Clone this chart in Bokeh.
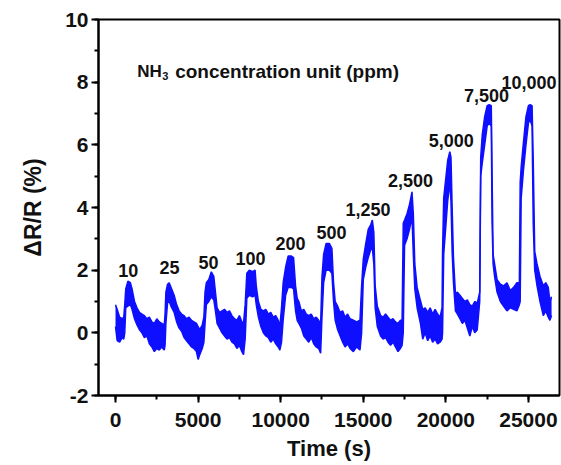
from bokeh.plotting import figure
from bokeh.models import Range1d, SingleIntervalTicker, Label
from bokeh.embed import file_html
from bokeh.resources import INLINE
from bokeh.core.properties import value

# ---- data: time (s), lower / upper edge of the noisy trace (dR/R, %)
time_s = [0, 100, 250, 400, 500, 560, 620, 750, 900, 1000, 1150, 1300, 1450, 1600, 1750, 1900,
          2050, 2200, 2350, 2500, 2650, 2800, 2950, 3000, 3050, 3150, 3250, 3400, 3550, 3700,
          3850, 4000, 4150, 4300, 4450, 4600, 4750, 4900, 5000, 5100, 5250, 5350, 5420, 5500,
          5650, 5800, 5950, 6050, 6150, 6300, 6450, 6600, 6750, 6900, 7050, 7200, 7350, 7500,
          7650, 7750, 7850, 7950, 8100, 8300, 8450, 8520, 8650, 8800, 8950, 9100, 9250, 9400,
          9550, 9700, 9850, 9950, 10050, 10150, 10300, 10450, 10650, 10780, 10900, 11000,
          11100, 11250, 11400, 11550, 11700, 11850, 12000, 12150, 12300, 12420, 12500, 12600,
          12750, 12950, 13100, 13200, 13300, 13450, 13600, 13750, 13900, 14050, 14200, 14400,
          14600, 14800, 14900, 15000, 15150, 15300, 15450, 15550, 15640, 15720, 15850, 16050,
          16200, 16350, 16500, 16650, 16800, 16950, 17100, 17250, 17350, 17420, 17500, 17650,
          17800, 17950, 18030, 18120, 18260, 18460, 18600, 18750, 18900, 19050, 19200, 19350,
          19500, 19650, 19770, 19800, 19870, 19970, 20110, 20240, 20310, 20380, 20460, 20580,
          20700, 20850, 21000, 21150, 21300, 21450, 21600, 21750, 21900, 22050, 22110, 22200,
          22350, 22500, 22620, 22750, 22800, 22860, 22950, 23100, 23300, 23500, 23700, 23900,
          24100, 24300, 24450, 24500, 24560, 24700, 24850, 25000, 25100, 25220, 25290, 25380,
          25520, 25700, 25900, 26050, 26200, 26300, 26400]
lower = [0.2, -0.25, -0.3, -0.15, -0.2, 0.0, 0.8, 0.85, 0.9, 0.75, 0.45, 0.25, 0.1, 0.0, -0.15, -0.1,
         -0.35, -0.45, -0.6, -0.5, -0.55, -0.45, -0.55, -0.4, 0.3, 0.95, 1.0, 0.8, 0.65, 0.35,
         0.15, 0.05, -0.15, -0.25, -0.35, -0.45, -0.5, -0.6, -0.85, -0.7, -0.5, -0.3, 0.3, 0.9,
         1.0, 1.15, 1.05, 0.7, 0.3, 0.15, 0.0, -0.1, -0.2, -0.15, -0.3, -0.35, -0.5, -0.4,
         -0.6, -0.7, -0.2, 1.1, 1.2, 1.15, 1.2, 0.9, 0.5, 0.2, 0.0, -0.1, -0.15, -0.3,
         -0.2, -0.35, -0.45, -0.55, -0.3, 0.4, 1.2, 1.45, 1.45, 1.4, 0.7, 0.4,
         0.3, 0.15, -0.1, -0.2, -0.3, -0.15, -0.35, -0.45, -0.5, -0.65, 0.5, 1.6,
         2.0, 2.0, 1.9, 1.0, 0.4, 0.1, -0.1, -0.3, -0.45, -0.35, -0.5, -0.6,
         -0.45, -0.55, 0.0, 1.7, 2.1, 2.4, 2.65, 2.7, 2.2, 0.8, 0.2, -0.1,
         -0.2, -0.15, -0.3, -0.4, -0.3, -0.45, -0.6, -0.5, -0.4, 0.0, 2.8, 3.0,
         3.3, 3.7, 2.5, 1.4, 0.8, 0.3, -0.2, 0.0, -0.25, -0.1, -0.3, -0.2,
         -0.35, -0.3, -0.2, 0.0, 2.5, 3.2, 4.2, 4.8, 4.2, 2.6, 1.6, 0.7,
         0.6, 0.45, 0.3, 0.4, 0.15, -0.1, 0.2, 0.0, 0.1, 1.0, 5.0, 5.4,
         6.0, 6.6, 6.7, 6.6, 3.5, 2.2, 1.8, 1.3, 1.0, 0.85, 0.7, 0.8,
         0.75, 0.7, 0.9, 1.0, 4.3, 5.2, 6.0, 6.7, 6.8, 6.6, 3.5, 2.0,
         1.5, 1.0, 0.55, 0.7, 0.5, 0.4, 0.55]
upper = [0.9, 0.75, 0.5, 0.45, 0.5, 0.9, 1.4, 1.65, 1.6, 1.4, 1.0, 0.8, 0.65, 0.6, 0.55, 0.45,
         0.5, 0.35, 0.3, 0.45, 0.35, 0.3, 0.25, 0.6, 1.3, 1.55, 1.6, 1.4, 1.2, 0.9,
         0.7, 0.6, 0.55, 0.45, 0.5, 0.4, 0.35, 0.3, 0.2, 0.1, 0.25, 0.5, 1.3, 1.6,
         1.7, 1.95, 1.8, 1.3, 0.8, 0.65, 0.7, 0.75, 0.65, 0.7, 0.55, 0.45, 0.4, 0.55,
         0.35, 0.3, 0.9, 1.9, 2.0, 1.95, 2.0, 1.5, 1.0, 0.75, 0.7, 0.75, 0.6, 0.65,
         0.5, 0.55, 0.4, 0.2, 0.8, 1.6, 2.1, 2.45, 2.45, 2.4, 1.5, 1.1,
         1.0, 0.7, 0.75, 0.6, 0.55, 0.6, 0.45, 0.5, 0.4, 0.3, 1.8, 2.5,
         2.85, 2.85, 2.7, 1.6, 1.0, 0.85, 0.65, 0.7, 0.5, 0.6, 0.45, 0.4,
         0.35, 0.4, 1.5, 2.35, 2.85, 3.3, 3.45, 3.6, 3.2, 1.5, 0.85, 0.55,
         0.5, 0.6, 0.5, 0.4, 0.45, 0.35, 0.3, 0.4, 0.4, 3.5, 3.6, 3.8,
         4.1, 4.5, 3.8, 2.2, 1.45, 1.03, 0.75, 0.8, 0.65, 0.8, 0.6, 0.75,
         0.6, 0.5, 0.8, 2.6, 4.3, 4.8, 5.5, 5.78, 5.6, 4.0, 2.4, 1.25,
         1.3, 1.2, 1.1, 1.0, 1.05, 0.9, 0.85, 1.0, 0.95, 1.3, 5.6, 6.3,
         6.9, 7.25, 7.28, 7.25, 5.0, 2.5, 2.2, 1.7, 1.55, 1.5, 1.6, 1.35,
         1.45, 1.6, 1.6, 4.8, 5.3, 6.1, 6.9, 7.25, 7.28, 7.25, 5.5, 2.6,
         2.2, 1.8, 1.5, 1.6, 1.45, 1.0, 1.15]

conc_labels = ["10", "25", "50", "100", "200", "500", "1,250", "2,500", "5,000", "7,500", "10,000"]
title_parts = ["NH", "3", "concentration unit (ppm)"]

FONT = "Liberation Sans"
BLUE = "#0f0fff"
INK = "#111111"

p = figure(width=561, height=465, output_backend="svg", toolbar_location=None,
           x_range=Range1d(-1030, 26880), y_range=Range1d(-2, 10),
           min_border_left=98, min_border_right=2, min_border_top=19, min_border_bottom=70)
p.grid.visible = False
p.background_fill_color = "white"
p.border_fill_color = "white"
p.outline_line_color = "black"
p.outline_line_width = 2

p.varea(x=time_s, y1=lower, y2=upper, fill_color=BLUE)
p.line(x=time_s, y=upper, line_color=BLUE, line_width=1.5)
p.line(x=time_s, y=lower, line_color=BLUE, line_width=1.5)

# concentration labels (annotation positions)
lab_x = [772, 3270, 5630, 8170, 10590, 13075, 15284, 17856, 20326, 22457, 25040]
lab_y = [2.0, 2.09, 2.25, 2.36, 2.85, 3.21, 3.94, 4.86, 6.14, 7.57, 8.0]
p.text(x=lab_x, y=lab_y, text=conc_labels, text_font=value(FONT), text_font_style="bold",
       text_font_size="18px", text_align="center", text_baseline="middle", text_color=INK)

# title with subscript
tx, ty = 1313, 8.35
p.add_layout(Label(x=tx, y=ty, text=title_parts[0], text_font=FONT, text_font_style="bold",
                   text_font_size="17px", text_baseline="alphabetic", text_color=INK))
p.add_layout(Label(x=tx, y=ty, x_offset=25, y_offset=-5, text=title_parts[1], text_font=FONT,
                   text_font_style="bold", text_font_size="11px", text_baseline="alphabetic",
                   text_color=INK))
p.add_layout(Label(x=tx, y=ty, x_offset=38, text=title_parts[2], text_font=FONT, text_font_style="bold",
                   text_font_size="19px", text_baseline="alphabetic", text_color=INK))

for ax in (p.xaxis[0], p.yaxis[0]):
    ax.axis_line_width = 2
    ax.major_tick_line_width = 2
    ax.minor_tick_line_width = 2
    ax.major_tick_out = 7
    ax.major_tick_in = 0
    ax.minor_tick_out = 4
    ax.minor_tick_in = 0
    ax.major_label_text_font = FONT
    ax.major_label_text_font_style = "bold"
    ax.major_label_text_font_size = "21px"
    ax.major_label_text_color = INK
    ax.axis_label_text_font = FONT
    ax.axis_label_text_font_style = "bold"
    ax.axis_label_text_color = INK

p.xaxis[0].axis_label_text_font_size = "22px"
p.yaxis[0].axis_label_text_font_size = "23px"
p.xaxis[0].ticker = SingleIntervalTicker(interval=5000, num_minor_ticks=2)
p.yaxis[0].ticker = SingleIntervalTicker(interval=2, num_minor_ticks=2)
p.yaxis[0].major_label_overrides = {-2: "-2"}
p.xaxis[0].axis_label = "Time (s)"
p.yaxis[0].axis_label = "ΔR/R (%)"
p.xaxis[0].major_label_standoff = 10
p.xaxis[0].axis_label_standoff = 6
p.yaxis[0].major_label_standoff = 3
p.yaxis[0].axis_label_standoff = 16

open("out.html", "w").write(file_html(p, INLINE))
